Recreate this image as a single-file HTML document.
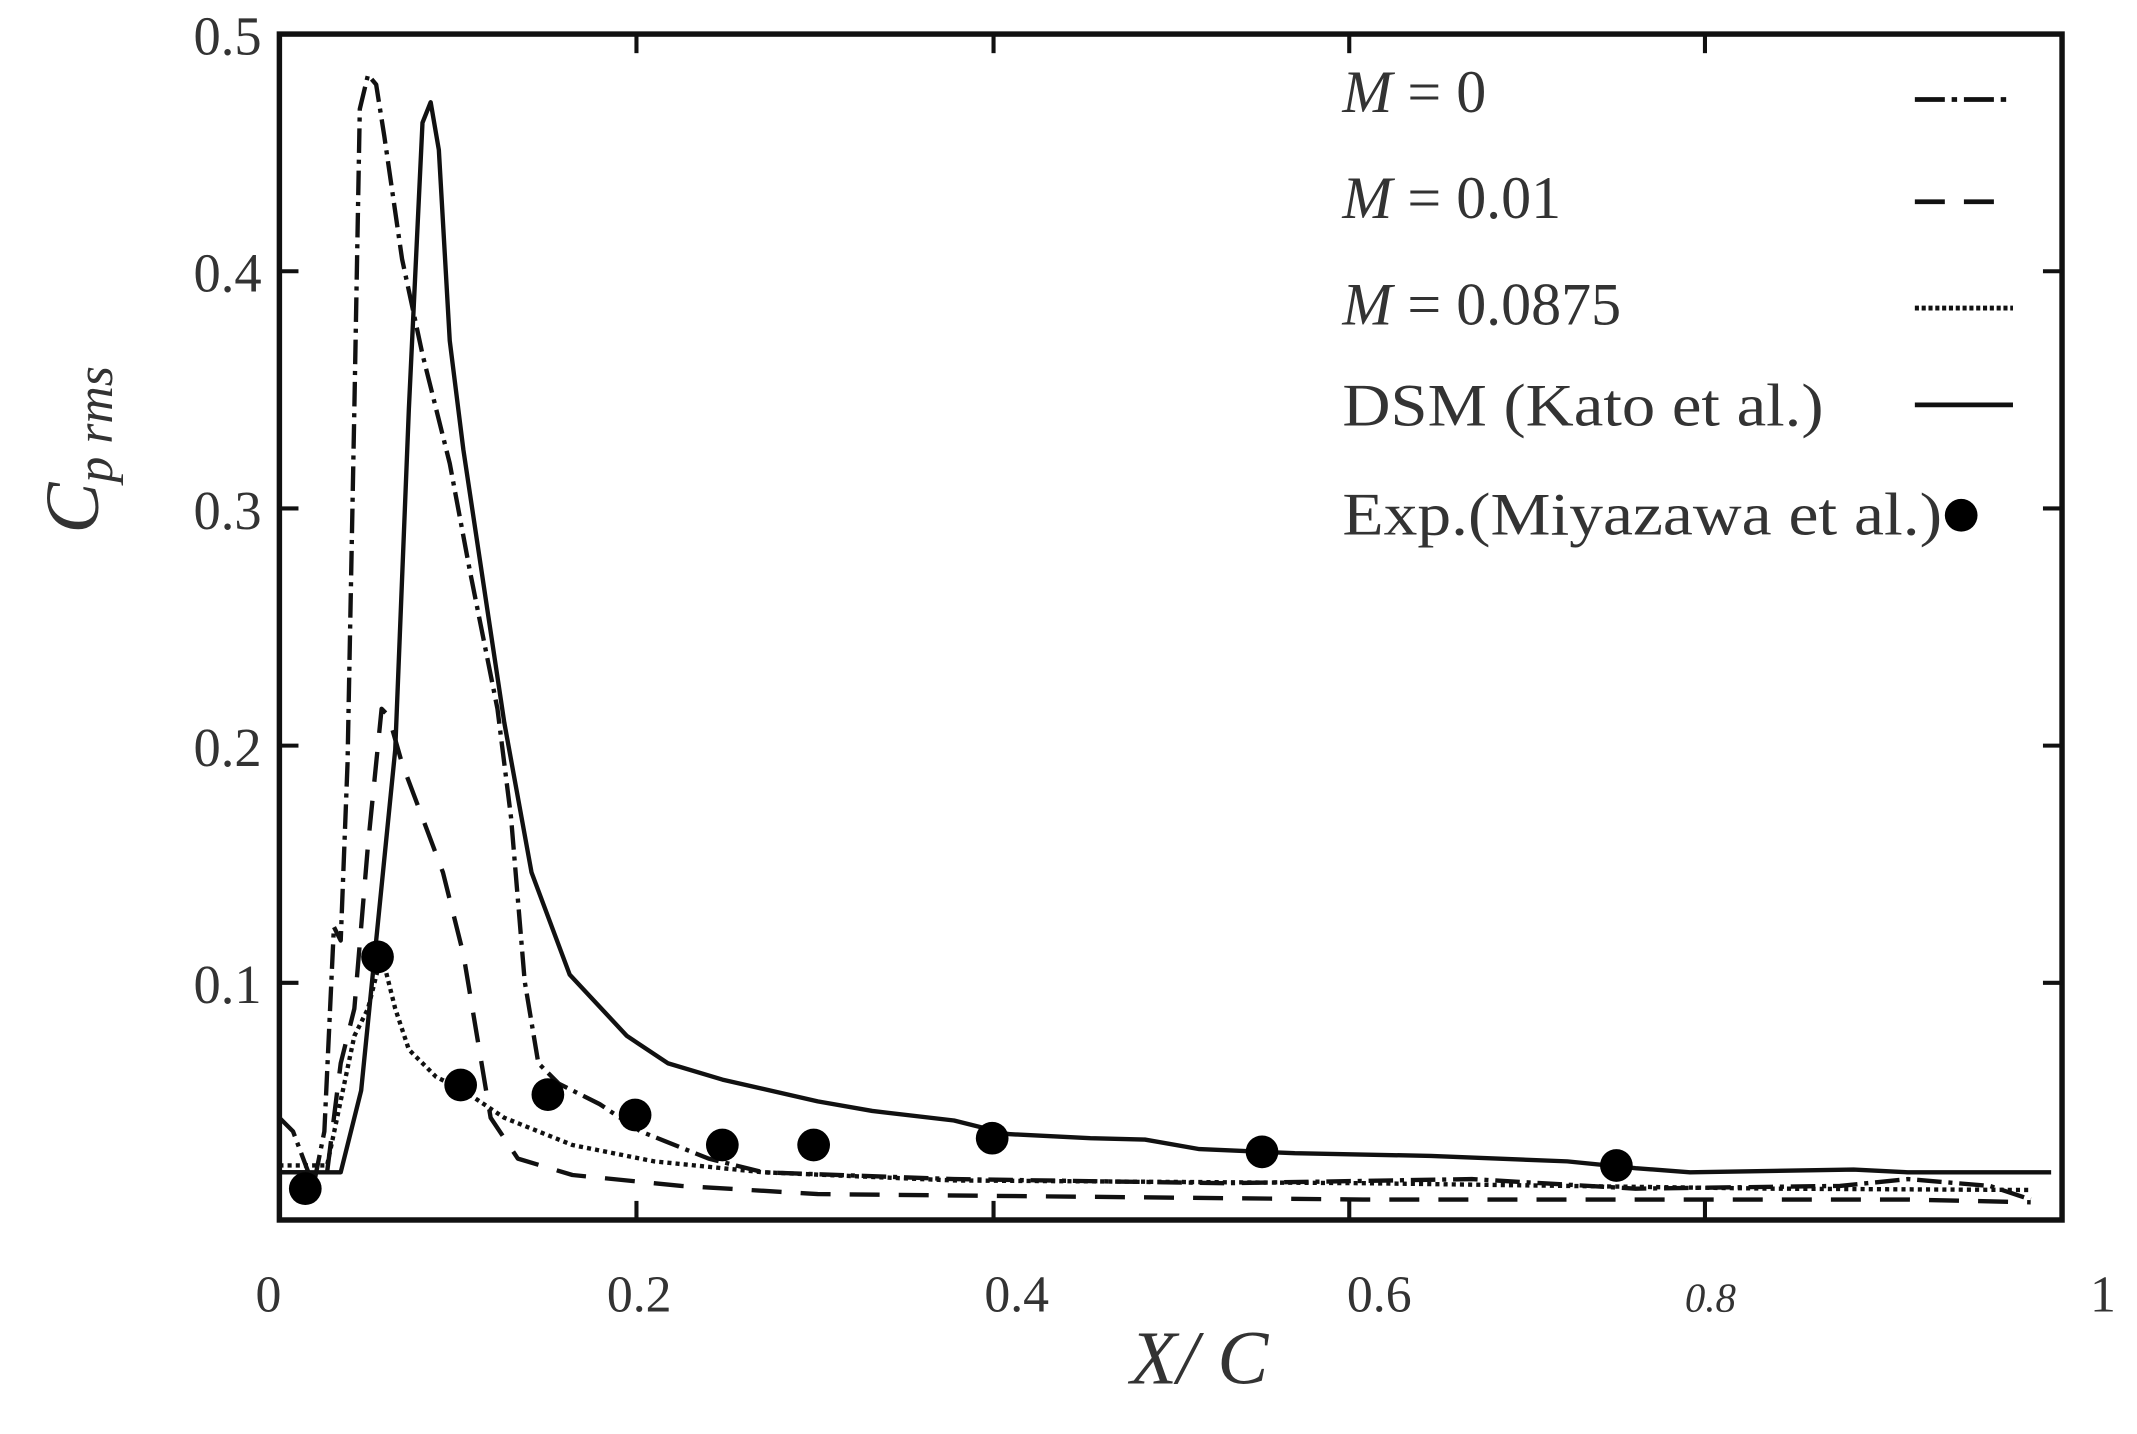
<!DOCTYPE html>
<html><head><meta charset="utf-8"><style>html,body{margin:0;padding:0;background:#fff}svg{display:block}</style></head>
<body>
<svg width="2137" height="1434" viewBox="0 0 1568 1052" preserveAspectRatio="none" xmlns="http://www.w3.org/2000/svg">
<g font-family="Liberation Serif, serif" fill="#333">
<rect x="205" y="25" width="1308" height="870" fill="none" stroke="#111" stroke-width="4"/>
<g stroke="#111" stroke-width="3">
<line x1="205" y1="199" x2="219" y2="199"/><line x1="205" y1="373" x2="219" y2="373"/><line x1="205" y1="547" x2="219" y2="547"/><line x1="205" y1="721" x2="219" y2="721"/>
<line x1="1513" y1="199" x2="1499" y2="199"/><line x1="1513" y1="373" x2="1499" y2="373"/><line x1="1513" y1="547" x2="1499" y2="547"/><line x1="1513" y1="721" x2="1499" y2="721"/>
<line x1="467" y1="895" x2="467" y2="881"/><line x1="729" y1="895" x2="729" y2="881"/><line x1="990" y1="895" x2="990" y2="881"/><line x1="1251" y1="895" x2="1251" y2="881"/>
<line x1="467" y1="25" x2="467" y2="39"/><line x1="729" y1="25" x2="729" y2="39"/><line x1="990" y1="25" x2="990" y2="39"/><line x1="1251" y1="25" x2="1251" y2="39"/>
</g>
<g font-size="40" text-anchor="end">
<text x="192" y="40">0.5</text><text x="192" y="214">0.4</text><text x="192" y="388">0.3</text><text x="192" y="562">0.2</text><text x="192" y="736">0.1</text>
</g>
<g font-size="38" text-anchor="middle">
<text x="197" y="962">0</text><text x="469" y="962">0.2</text><text x="746" y="962">0.4</text><text x="1012" y="962">0.6</text><text x="1255" y="962" font-style="italic" font-size="30">0.8</text><text x="1543" y="962">1</text>
</g>
<text x="880" y="1015" font-size="56" font-style="italic" text-anchor="middle">X/ C</text>
<g transform="translate(72,330) rotate(-90)"><text font-size="56" font-style="italic" text-anchor="middle">C<tspan font-size="38" dy="10">p rms</tspan></text></g>
<g font-size="44">
<text x="985" y="82"><tspan font-style="italic">M</tspan> = 0</text>
<text x="985" y="160"><tspan font-style="italic">M</tspan> = 0.01</text>
<text x="985" y="238"><tspan font-style="italic">M</tspan> = 0.0875</text>
<text x="985" y="312" textLength="353" lengthAdjust="spacingAndGlyphs">DSM (Kato et al.)</text>
<text x="985" y="392" textLength="440" lengthAdjust="spacingAndGlyphs">Exp.(Miyazawa et al.)</text>
</g>
<g stroke="#111" stroke-width="3.5" fill="none">
<line x1="1405" y1="73" x2="1477" y2="73" stroke-dasharray="22,5,4,5"/>
<line x1="1405" y1="148" x2="1477" y2="148" stroke-dasharray="22,14"/>
<line x1="1405" y1="226" x2="1477" y2="226" stroke-dasharray="3,2"/>
<line x1="1405" y1="297" x2="1477" y2="297"/>
</g>
<circle cx="1439" cy="378" r="12" fill="#000"/>
</g>
<g fill="none" stroke="#111" stroke-width="3.2" stroke-linejoin="round">
<polyline points="205,860 250,860 265,800 275,700 290,550 300,300 310,90 316,75 322,110 330,250 340,330 355,430 370,530 390,640 418,715 460,760 490,780 530,792 600,808 640,815 700,822 740,832 800,835 840,836 880,843 950,846 1050,848 1150,852 1200,857 1240,860 1300,859 1360,858 1400,860 1505,860"/>
<polyline stroke-dasharray="18,5,3,5" points="205,820 215,830 230,870 238,830 245,680 250,690 255,560 260,300 264,80 270,55 276,62 282,100 295,190 310,260 330,340 345,420 365,520 375,600 385,720 395,780 410,795 440,810 470,830 520,850 560,860 700,865 900,868 1080,865 1200,872 1350,870 1400,865 1460,870 1490,880"/>
<polyline stroke-dasharray="22,14" points="205,860 240,860 250,780 260,740 270,620 280,520 285,525 295,560 310,600 325,640 340,700 350,760 360,820 380,850 420,862 500,870 600,876 800,878 1000,880 1200,880 1400,880 1490,882"/>
<polyline stroke-dasharray="3,3" points="205,855 240,855 260,760 270,740 280,700 290,740 300,770 320,790 340,800 370,820 420,840 480,852 560,860 700,866 1000,868 1300,872 1490,873"/>
</g>
<g fill="#000">
<circle cx="224" cy="872" r="12"/><circle cx="277" cy="702" r="12"/><circle cx="338" cy="796" r="12"/><circle cx="402" cy="803" r="12"/><circle cx="466" cy="818" r="12"/><circle cx="530" cy="840" r="12"/><circle cx="597" cy="840" r="12"/><circle cx="728" cy="835" r="12"/><circle cx="926" cy="845" r="12"/><circle cx="1186" cy="855" r="12"/>
</g>
</svg>
</body></html>
